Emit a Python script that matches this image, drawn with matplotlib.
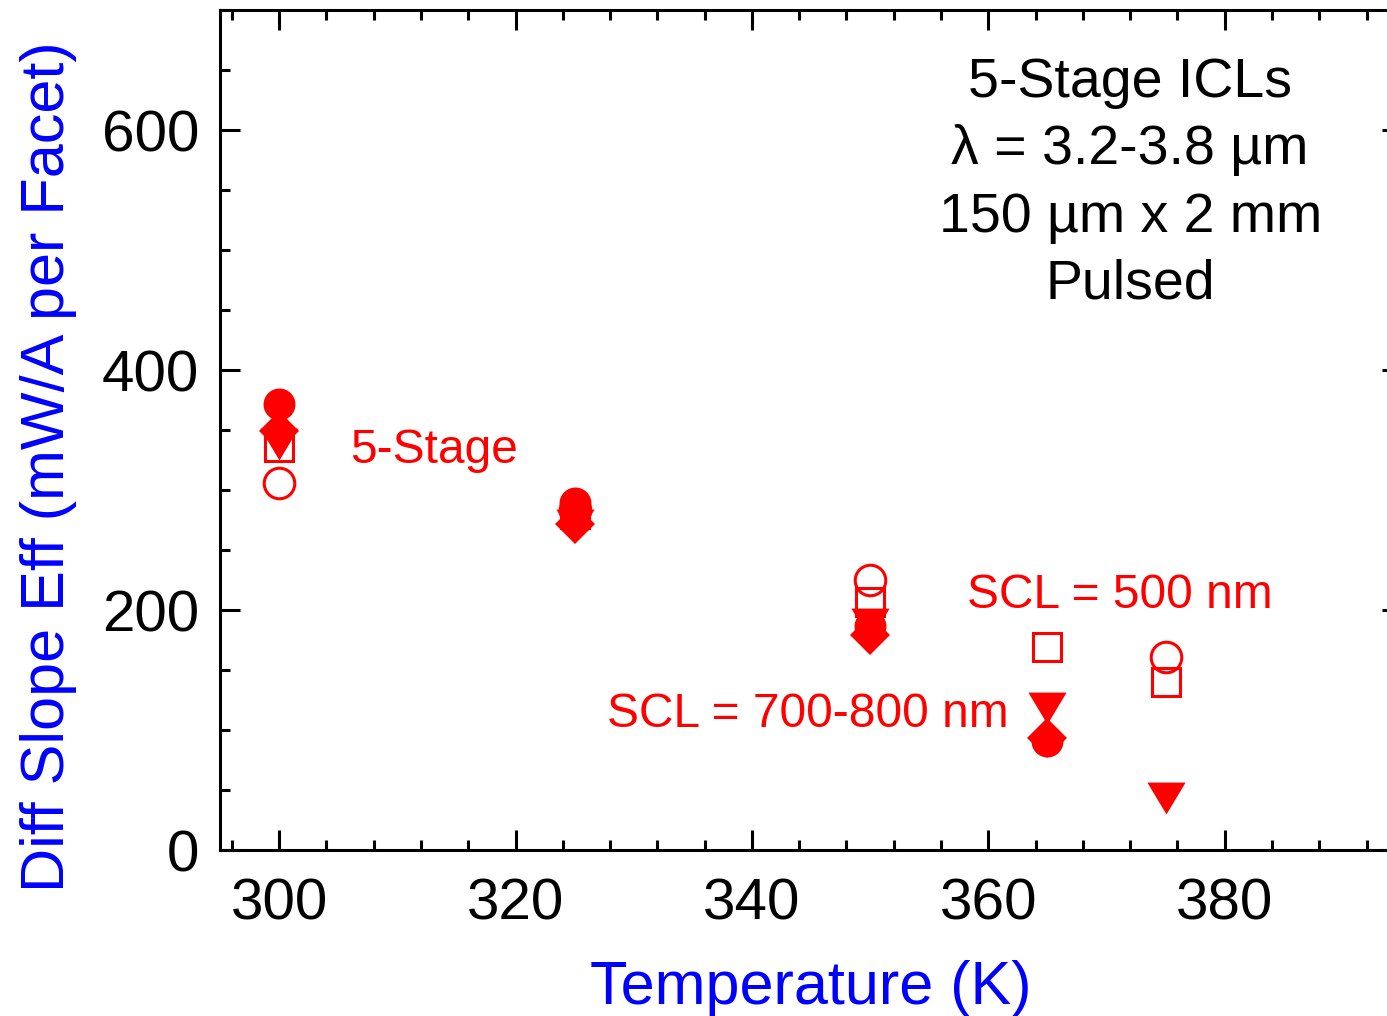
import numpy as np
import matplotlib.pyplot as plt
from matplotlib.ticker import MultipleLocator

plt.rcParams['font.family'] = ['Liberation Sans', 'DejaVu Sans']

# SCL = 500 nm (open symbols)
t_osq = [300, 325, 350, 365, 375]
y_osq = [336, 280, 207, 169, 140]
t_oci = [300, 325, 350, 375]
y_oci = [306, 283, 225, 161]

# SCL = 700-800 nm (filled symbols)
t_tri = [300, 325, 350, 365, 375]
y_tri = [338, 271, 188, 118, 43]
t_dia = [300, 325, 350, 365]
y_dia = [349, 272, 179, 93]
t_cir = [300, 325, 350, 365]
y_cir = [372, 289, 187, 91]

red = '#FF0000'
blue = '#0000FF'

fig = plt.figure(figsize=(13.87, 10.16), dpi=100)
ax = fig.add_axes([220/1387, 1-850/1016, 1182/1387, 840/1016])

tri = [(-0.6, 0.5), (0.6, 0.5), (0, -0.5), (-0.6, 0.5)]

ax.plot(t_osq, y_osq, 's', ls='none', ms=20, mfc='none', mec=red, mew=2.2)
ax.plot(t_oci, y_oci, 'o', ls='none', ms=22, mfc='none', mec=red, mew=2.2)
ax.plot(t_tri, y_tri, marker=tri, ls='none', ms=27.5, color=red, mew=0)
ax.plot(t_dia, y_dia, 'D', ls='none', ms=20, color=red, mew=0)
ax.plot(t_cir, y_cir, 'o', ls='none', ms=23, color=red, mew=0)

ax.set_xlim(295, 395)
ax.set_ylim(0, 700)
ax.xaxis.set_major_locator(MultipleLocator(20))
ax.xaxis.set_minor_locator(MultipleLocator(4))
ax.yaxis.set_major_locator(MultipleLocator(200))
ax.yaxis.set_minor_locator(MultipleLocator(50))

for s in ax.spines.values():
    s.set_linewidth(2.2)
ax.tick_params(which='both', direction='in', top=True, right=True, width=2.2,
               labelsize=42)
ax.tick_params(axis='x', pad=20)
ax.tick_params(axis='y', pad=15)
ax.tick_params(which='major', length=14.5)
ax.tick_params(which='minor', length=7.5)

ax.set_xlabel('Temperature (K)', fontsize=44, color=blue)
ax.set_ylabel('Diff Slope Eff (mW/A per Facet)', fontsize=44, color=blue)
ax.xaxis.set_label_coords(0.5, -0.131)
ax.yaxis.set_label_coords(-0.121, 0.456)

ax.text(372.0, 555, '5-Stage ICLs\n\u03bb = 3.2-3.8 \u00b5m\n150 \u00b5m x 2 mm\nPulsed',
        fontsize=40, ha='center', va='center', linespacing=1.38)
ax.text(306.0, 333, '5-Stage', fontsize=34.5, color=red, ha='left', va='center')
ax.text(358.2, 212, 'SCL = 500 nm', fontsize=34.5, color=red, ha='left', va='center')
ax.text(327.7, 113, 'SCL = 700-800 nm', fontsize=34.5, color=red,
        ha='left', va='center')

fig.savefig('out.png', dpi=100)
